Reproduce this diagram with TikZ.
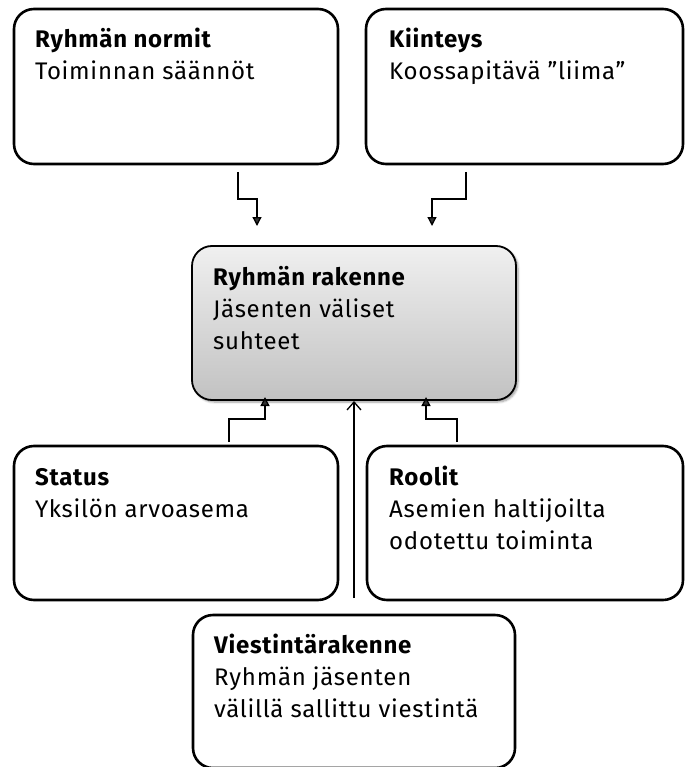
\documentclass[tikz,border=0pt]{standalone}
\usepackage{fontspec}
\setmainfont[LetterSpace=3]{Fira Sans}
\usetikzlibrary{arrows.meta,shadows.blur}
\begin{document}
\begin{tikzpicture}[x=1pt,y=-1pt,
  card/.style={draw=black,line width=2.6pt,rounded corners=20pt,fill=white},
  core/.style={draw=black,line width=1.8pt,rounded corners=20pt,
    top color=gray!12,bottom color=gray!48,
    blur shadow={shadow xshift=2pt,shadow yshift=-2pt,shadow blur steps=6}},
  txt/.style={anchor=base west,align=left,inner sep=0pt,
    font=\fontsize{24}{32}\selectfont},
  link/.style={line width=1.3pt,-{Triangle[length=9pt,width=9pt]}},
  openlink/.style={line width=1.3pt,-{Straight Barb[length=8pt,width=14pt]}}]
\useasboundingbox (0,0) rectangle (685,767);
\clip (0,0) rectangle (685,767);

% outer boxes
\draw[card] (14,9) rectangle (338,164);
\draw[card] (366,9) rectangle (683,164);
\draw[card] (14,446) rectangle (338,600);
\draw[card] (367,446) rectangle (683,600);
\draw[card] (193,615) rectangle (515,768);
% central box
\draw[core] (192,246) rectangle (516,400);

% labels (positioned on the baseline of their last line)
\node[txt] (norm) at (35,80) {\textbf{Ryhmän normit}\\Toiminnan säännöt};
\node[txt] (kiin) at (389,80) {\textbf{Kiinteys}\\Koossapitävä ”liima”};
\node[txt] (rak) at (213,349) {\textbf{Ryhmän rakenne}\\Jäsenten väliset\\suhteet};
\node[txt] (stat) at (35,517) {\textbf{Status}\\Yksilön arvoasema};
\node[txt] (rool) at (389,549) {\textbf{Roolit}\\Asemien haltijoilta\\odotettu toiminta};
\node[txt] (vies) at (214,717) {\textbf{Viestintärakenne}\\Ryhmän jäsenten\\välillä sallittu viestintä};

% connector anchors
\coordinate (n0) at (238,172);
\coordinate (n1) at (257,226);
\coordinate (k0) at (466,172);
\coordinate (k1) at (432,226);
\coordinate (s0) at (229,442);
\coordinate (s1) at (265,397);
\coordinate (r0) at (457,442);
\coordinate (r1) at (426,397);
\coordinate (v0) at (354,598);
\coordinate (v1) at (354,401);

% connectors
\draw[link] (n0) |- (248,199) -| (n1);
\draw[link] (k0) |- (448,199) -| (k1);
\draw[link] (s0) |- (247,419) -| (s1);
\draw[link] (r0) |- (441,419) -| (r1);
\draw[openlink] (v0) -- (v1);
\end{tikzpicture}
\end{document}
